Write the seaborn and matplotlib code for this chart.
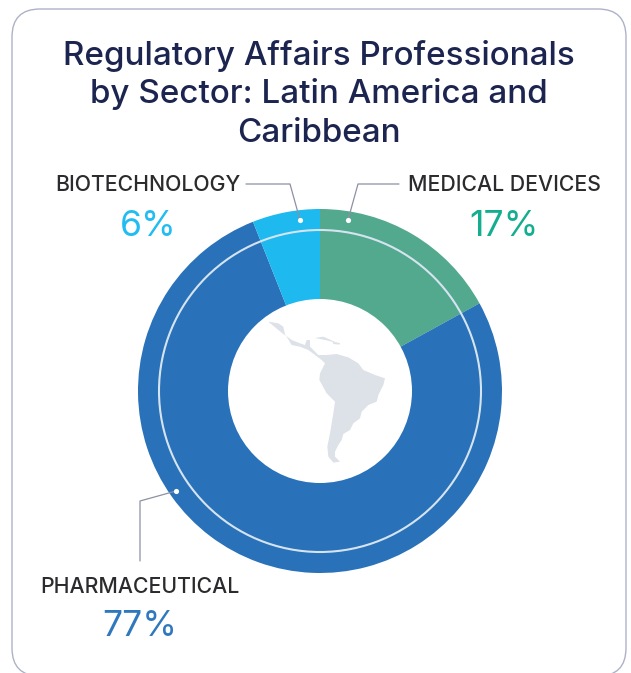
import matplotlib
matplotlib.use("Agg")
import matplotlib.pyplot as plt
from matplotlib.patches import Circle, FancyBboxPatch, Polygon
import numpy as np
import seaborn as sns

title_lines = ["Regulatory Affairs Professionals", "by Sector: Latin America and", "Caribbean"]
sectors = ["MEDICAL DEVICES", "PHARMACEUTICAL", "BIOTECHNOLOGY"]
shares = [17, 77, 6]
share_labels = ["17%", "77%", "6%"]
slice_colors = ["#52A98E", "#2971B9", "#1DB9EF"]
text_colors = ["#12AE8F", "#2F78BE", "#20BCF2"]

sns.set_theme(style="white")
plt.rcParams["font.family"] = ["Inter", "DejaVu Sans"]
W, H = 631, 673
fig = plt.figure(figsize=(W / 100, H / 100), dpi=100)
ax = fig.add_axes([0, 0, 1, 1])
ax.set_xlim(0, W)
ax.set_ylim(H, 0)
ax.axis("off")
ax.set_aspect("equal")

ax.add_patch(FancyBboxPatch((12, 9), 614, 667, boxstyle="round,pad=0,rounding_size=28",
                            fc="white", ec="#AEB2C6", lw=1.0))

cx, cy, R = 320, 391, 182
# y axis is inverted, so a counter-clockwise pie in data terms appears clockwise
ax.pie(shares, colors=slice_colors, center=(cx, cy), radius=R, startangle=-90,
       counterclock=True, frame=True, wedgeprops=dict(linewidth=0))
ax.set_xlim(0, W)
ax.set_ylim(H, 0)
ax.axis("off")
ax.add_patch(Circle((cx, cy), 92, fc="white", ec="none", zorder=5))
ax.add_patch(Circle((cx, cy), 161, fc="none", ec="#D5E4F0", lw=1.5, zorder=4))

# decorative map outline, traced on a 3x crop whose origin is at (220, 280)
mainland = [(320, 225), (350, 222), (385, 232), (415, 250), (430, 270), (465, 285), (495, 295),
            (490, 315), (475, 345), (470, 365), (445, 375), (425, 395), (420, 415), (400, 430),
            (390, 450), (370, 462), (365, 480), (355, 495), (345, 515), (345, 530), (360, 545),
            (340, 548), (325, 530), (322, 500), (330, 460), (340, 400), (345, 365), (320, 340),
            (298, 300), (300, 280), (315, 250), (305, 240), (285, 225), (265, 210), (240, 200),
            (215, 195), (200, 170), (175, 150), (145, 125), (175, 130), (190, 140), (195, 165),
            (215, 180), (240, 190), (255, 195), (260, 180), (270, 180), (270, 200), (295, 225)]
cuba = [(285, 174), (310, 170), (355, 190), (320, 181)]
hisp = [(338, 186), (360, 189), (358, 194), (340, 192)]
for pts in (mainland, cuba, hisp):
    traced = [(220 + px / 3, 280 + py / 3) for px, py in pts]
    ax.add_patch(Polygon(traced, closed=True, fc="#DDE1E8", ec="none", zorder=6))

for i, line in enumerate(title_lines):
    ax.text(319, 56 + 38.5 * i, line, ha="center", va="center", fontsize=23.9,
            color="#1C2450", fontweight="medium")

label_color = "#2B2B2E"
ax.text(55, 185, sectors[2], ha="left", va="center", fontsize=15.3, color=label_color, fontweight="medium")
ax.text(601, 185, sectors[0], ha="right", va="center", fontsize=15.3, color=label_color, fontweight="medium")
ax.text(140, 587, sectors[1], ha="center", va="center", fontsize=15.3, color=label_color, fontweight="medium")
ax.text(148, 227, share_labels[2], ha="center", va="center", fontsize=25.5, color=text_colors[2])
ax.text(504, 227, share_labels[0], ha="center", va="center", fontsize=25.5, color=text_colors[0])
ax.text(140, 627, share_labels[1], ha="center", va="center", fontsize=25.5, color=text_colors[1])

lead = "#8E90A6"
ax.plot([246, 290, 300], [184, 184, 220], color=lead, lw=0.9, zorder=7)
ax.plot([399, 358, 348], [184, 184, 220], color=lead, lw=0.9, zorder=7)
ax.plot([140, 140, 176], [561, 501, 491], color=lead, lw=0.9, zorder=7)
ax.scatter([300, 348, 176], [220, 220, 491], s=14, color="white", zorder=8, linewidths=0)

fig.savefig("out.png", dpi=100, facecolor="white")
